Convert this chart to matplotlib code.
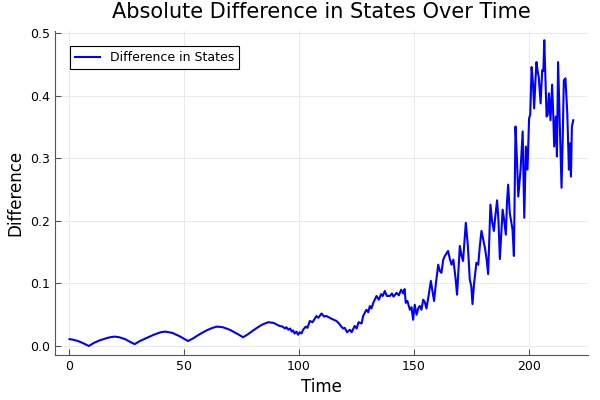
import matplotlib
matplotlib.use("Agg")
import matplotlib.pyplot as plt

# values
time = [0.4, 2, 4, 6, 8.8, 11, 13.5, 16, 18, 20, 22, 24.5, 27, 28.7, 31, 34, 37, 40, 42, 45, 48,
        50.5, 51.9, 54, 57, 60, 62.5, 64.5, 67, 70, 72, 74, 75.8, 78, 81, 84, 86.7, 89, 91.7, 93,
        94, 94.6, 95.5, 96.2, 97, 97.5, 98.2, 99, 99.7, 100.4, 101.2, 101.9, 103, 103.8, 104.8,
        106, 107.7, 108.5, 109.9, 111, 112, 114, 116.4, 117.5, 118.5, 119.3, 120, 121, 122.2, 123,
        124.3, 125.2, 126, 127.3, 128, 129.4, 130.2, 130.9, 131.6, 132.5, 133.8, 134.8, 135.8,
        136.5, 137.4, 138.3, 139.6, 140.5, 141.2, 142.5, 143.5, 144.5, 145.4, 146, 146.5, 147.2,
        148.3, 149, 149.7, 150.4, 151.2, 152, 152.6, 153.3, 154.1, 154.8, 155.5, 156.5, 157.4,
        158.1, 158.8, 159.6, 160.6, 161.3, 162, 162.8, 163.5, 164.9, 165.6, 166.4, 167.2, 168.2,
        168.8, 170, 170.7, 171.4, 172.6, 173.5, 174.3, 175, 175.5, 176.2, 177.2, 178, 178.7, 179.4,
        180.2, 180.9, 181.6, 182.3, 183.3, 184, 184.8, 185.5, 186.2, 186.8, 187.4, 188, 188.6,
        189.3, 190, 190.5, 191, 191.7, 192.3, 192.9, 193.5, 194.2, 194.8, 195.4, 195.9, 196.4,
        197.3, 198, 198.7, 199.4, 200.1, 200.6, 201.2, 201.8, 202.3, 202.8, 203.3, 203.8, 204.3,
        205.1, 205.8, 206.3, 206.7, 207.2, 207.7, 208.2, 208.7, 209.4, 210.1, 210.6, 211, 211.7,
        212.2, 212.7, 213.5, 214.2, 214.7, 215.2, 215.9, 216.7, 217.4, 217.8, 218.3, 218.7, 219.3]
difference = [0.011, 0.010, 0.008, 0.005, 0.000, 0.005, 0.009, 0.012, 0.014, 0.015, 0.014, 0.011,
              0.006, 0.003, 0.008, 0.013, 0.018, 0.022, 0.023, 0.021, 0.016, 0.011, 0.008, 0.012,
              0.019, 0.025, 0.029, 0.031, 0.030, 0.026, 0.022, 0.018, 0.014, 0.019, 0.027, 0.034,
              0.038, 0.037, 0.032, 0.031, 0.028, 0.030, 0.026, 0.028, 0.023, 0.025, 0.020, 0.023,
              0.018, 0.022, 0.020, 0.026, 0.031, 0.029, 0.040, 0.038, 0.048, 0.045, 0.052, 0.047,
              0.048, 0.044, 0.040, 0.036, 0.031, 0.028, 0.029, 0.022, 0.026, 0.022, 0.032, 0.028,
              0.038, 0.036, 0.048, 0.058, 0.054, 0.064, 0.060, 0.070, 0.080, 0.074, 0.083, 0.080,
              0.088, 0.080, 0.080, 0.084, 0.079, 0.085, 0.081, 0.090, 0.084, 0.091, 0.069, 0.072,
              0.058, 0.062, 0.042, 0.066, 0.050, 0.061, 0.064, 0.058, 0.074, 0.070, 0.060, 0.082,
              0.104, 0.088, 0.072, 0.100, 0.130, 0.120, 0.117, 0.138, 0.144, 0.152, 0.140, 0.130,
              0.138, 0.106, 0.082, 0.160, 0.145, 0.136, 0.197, 0.160, 0.107, 0.095, 0.067, 0.100,
              0.133, 0.130, 0.160, 0.184, 0.170, 0.157, 0.140, 0.115, 0.226, 0.200, 0.184, 0.210,
              0.233, 0.200, 0.139, 0.180, 0.218, 0.200, 0.178, 0.230, 0.258, 0.213, 0.200, 0.186,
              0.144, 0.351, 0.300, 0.239, 0.260, 0.282, 0.343, 0.205, 0.319, 0.282, 0.364, 0.370,
              0.446, 0.420, 0.380, 0.420, 0.454, 0.440, 0.430, 0.388, 0.441, 0.440, 0.489, 0.430,
              0.367, 0.370, 0.404, 0.361, 0.418, 0.370, 0.319, 0.367, 0.303, 0.454, 0.346, 0.253,
              0.330, 0.425, 0.428, 0.372, 0.282, 0.324, 0.271, 0.351, 0.361]

fig = plt.figure(figsize=(6, 4), dpi=100)
ax = fig.add_axes([0.091, 0.1125, 0.889, 0.81])

ax.plot(time, difference, color="blue", linewidth=1.5, label="Difference in States")

ax.set_xlim(-6.1, 225.7)
ax.set_ylim(-0.0144, 0.5037)
ax.set_xticks([0, 50, 100, 150, 200])
ax.set_yticks([0.0, 0.1, 0.2, 0.3, 0.4, 0.5])
ax.set_yticklabels(["0.0", "0.1", "0.2", "0.3", "0.4", "0.5"])
ax.grid(True, color="#e6e6e6", linewidth=0.6)
ax.set_axisbelow(True)
for s in ["top", "right"]:
    ax.spines[s].set_visible(False)
for s in ["left", "bottom"]:
    ax.spines[s].set_color("#555555")
ax.tick_params(direction="in", length=4, labelsize=9, color="#555555")

ax.set_title("Absolute Difference in States Over Time", fontsize=15, pad=9)
ax.set_xlabel("Time", fontsize=12)
ax.set_ylabel("Difference", fontsize=12)
leg = ax.legend(loc="upper left", fontsize=9, fancybox=False, framealpha=1,
                edgecolor="black", borderaxespad=1.2)
leg.get_frame().set_linewidth(0.8)

fig.savefig("out.png", dpi=100)
